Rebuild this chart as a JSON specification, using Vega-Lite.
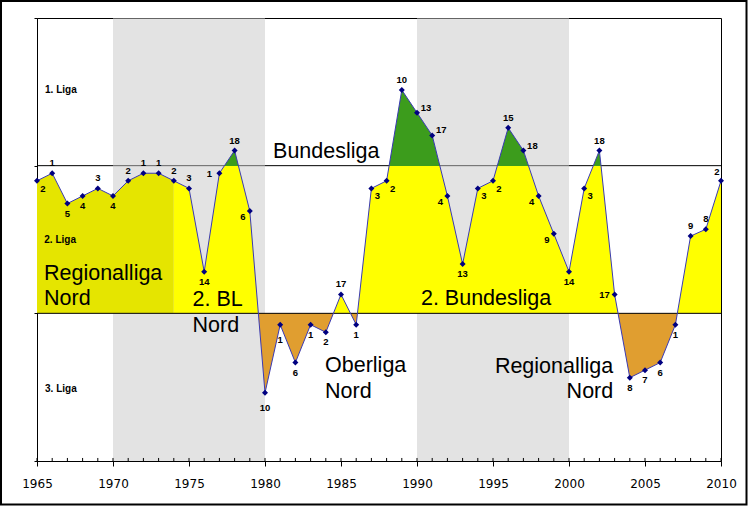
{
  "$schema": "https://vega.github.io/schema/vega-lite/v6.json",
  "width": 684,
  "height": 443,
  "autosize": {"type": "none"},
  "padding": {"left": 37, "top": 18, "right": 27, "bottom": 45},
  "background": "white",
  "config": {"view": {"stroke": "black", "strokeWidth": 1}, "axis": {"grid": false}},
  "datasets": {
    "seasons": [
      {"year": 1965, "liga": 2, "position": 2, "level": 22},
      {"year": 1966, "liga": 2, "position": 1, "level": 21},
      {"year": 1967, "liga": 2, "position": 5, "level": 25},
      {"year": 1968, "liga": 2, "position": 4, "level": 24},
      {"year": 1969, "liga": 2, "position": 3, "level": 23},
      {"year": 1970, "liga": 2, "position": 4, "level": 24},
      {"year": 1971, "liga": 2, "position": 2, "level": 22},
      {"year": 1972, "liga": 2, "position": 1, "level": 21},
      {"year": 1973, "liga": 2, "position": 1, "level": 21},
      {"year": 1974, "liga": 2, "position": 2, "level": 22},
      {"year": 1975, "liga": 2, "position": 3, "level": 23},
      {"year": 1976, "liga": 2, "position": 14, "level": 34},
      {"year": 1977, "liga": 2, "position": 1, "level": 21},
      {"year": 1978, "liga": 1, "position": 18, "level": 18},
      {"year": 1979, "liga": 2, "position": 6, "level": 26},
      {"year": 1980, "liga": 3, "position": 10, "level": 50},
      {"year": 1981, "liga": 3, "position": 1, "level": 41},
      {"year": 1982, "liga": 3, "position": 6, "level": 46},
      {"year": 1983, "liga": 3, "position": 1, "level": 41},
      {"year": 1984, "liga": 3, "position": 2, "level": 42},
      {"year": 1985, "liga": 2, "position": 17, "level": 37},
      {"year": 1986, "liga": 3, "position": 1, "level": 41},
      {"year": 1987, "liga": 2, "position": 3, "level": 23},
      {"year": 1988, "liga": 2, "position": 2, "level": 22},
      {"year": 1989, "liga": 1, "position": 10, "level": 10},
      {"year": 1990, "liga": 1, "position": 13, "level": 13},
      {"year": 1991, "liga": 1, "position": 17, "level": 16},
      {"year": 1992, "liga": 2, "position": 4, "level": 24},
      {"year": 1993, "liga": 2, "position": 13, "level": 33},
      {"year": 1994, "liga": 2, "position": 3, "level": 23},
      {"year": 1995, "liga": 2, "position": 2, "level": 22},
      {"year": 1996, "liga": 1, "position": 15, "level": 15},
      {"year": 1997, "liga": 1, "position": 18, "level": 18},
      {"year": 1998, "liga": 2, "position": 4, "level": 24},
      {"year": 1999, "liga": 2, "position": 9, "level": 29},
      {"year": 2000, "liga": 2, "position": 14, "level": 34},
      {"year": 2001, "liga": 2, "position": 3, "level": 23},
      {"year": 2002, "liga": 1, "position": 18, "level": 18},
      {"year": 2003, "liga": 2, "position": 17, "level": 37},
      {"year": 2004, "liga": 3, "position": 8, "level": 48},
      {"year": 2005, "liga": 3, "position": 7, "level": 47},
      {"year": 2006, "liga": 3, "position": 6, "level": 46},
      {"year": 2007, "liga": 3, "position": 1, "level": 41},
      {"year": 2008, "liga": 2, "position": 9, "level": 29.3},
      {"year": 2009, "liga": 2, "position": 8, "level": 28.4},
      {"year": 2010, "liga": 2, "position": 2, "level": 22}
    ],
    "shading": [{"start": 1970, "end": 1980}, {"start": 1990, "end": 2000}]
  },
  "data": {"name": "seasons"},
  "layer": [
    {
      "data": {"values": [{}]},
      "mark": {"type": "rule", "color": "black", "strokeWidth": 1},
      "encoding": {"y": {"datum": 20, "type": "quantitative", "scale": {"domain": [0.5, 59], "reverse": true, "nice": false, "zero": false}}}
    },
    {
      "data": {"name": "shading"},
      "mark": {"type": "rect", "color": "#c8c8c8", "opacity": 0.5},
      "encoding": {
        "x": {"field": "start", "type": "quantitative", "title": null, "scale": {"domain": [1965, 2010], "nice": false, "zero": false}},
        "x2": {"field": "end"}
      }
    },
    {
      "transform": [{"filter": "datum.year <= 1974"}],
      "mark": {"type": "area", "color": "#e5e500"},
      "encoding": {
        "x": {"field": "year", "type": "quantitative", "title": null, "scale": {"domain": [1965, 2010], "nice": false, "zero": false}},
        "y": {"field": "level", "type": "quantitative", "title": null, "scale": {"domain": [0.5, 59], "reverse": true, "nice": false, "zero": false}},
        "y2": {"datum": 39.5}
      }
    },
    {
      "transform": [{"filter": "datum.year >= 1974"}],
      "mark": {
        "type": "area",
        "color": {
          "gradient": "linear", "x1": 0, "y1": 0, "x2": 0, "y2": 1,
          "stops": [
            {"offset": 0, "color": "#3c9c1c"},
            {"offset": 0.25, "color": "#3c9c1c"},
            {"offset": 0.25, "color": "#ffff00"},
            {"offset": 0.7375, "color": "#ffff00"},
            {"offset": 0.7375, "color": "#e09e30"},
            {"offset": 1, "color": "#e09e30"}
          ]
        }
      },
      "encoding": {
        "x": {"field": "year", "type": "quantitative", "title": null, "scale": {"domain": [1965, 2010], "nice": false, "zero": false}},
        "y": {"field": "level", "type": "quantitative", "title": null, "scale": {"domain": [0.5, 59], "reverse": true, "nice": false, "zero": false}},
        "y2": {"datum": 39.5}
      }
    },
    {
      "data": {"values": [{}]},
      "mark": {"type": "rule", "color": "black", "strokeWidth": 1},
      "encoding": {"y": {"datum": 39.5, "type": "quantitative"}}
    },
    {
      "mark": {"type": "rule", "color": "black", "strokeWidth": 1},
      "encoding": {
        "x": {"field": "year", "type": "quantitative", "title": null},
        "y": {"datum": 59, "type": "quantitative"},
        "y2": {"datum": 58.6}
      }
    },
    {
      "mark": {"type": "line", "color": "#3a3ab4", "strokeWidth": 1},
      "encoding": {
        "x": {"field": "year", "type": "quantitative", "title": null,
          "scale": {"domain": [1965, 2010], "nice": false, "zero": false},
          "axis": {"values": [1965, 1970, 1975, 1980, 1985, 1990, 1995, 2000, 2005, 2010], "format": "d", "labelFont": "DejaVu Sans", "labelFontSize": 12, "labelColor": "black", "tickColor": "black", "domainColor": "black", "tickSize": 5, "labelPadding": 12, "labelFlush": false, "labelOverlap": false, "title": null}},
        "y": {"field": "level", "type": "quantitative", "title": null,
          "scale": {"domain": [0.5, 59], "reverse": true, "nice": false, "zero": false},
          "axis": {"values": [0.5, 20, 39.5, 59], "labels": false, "tickSize": 3, "tickColor": "black", "domainColor": "black", "title": null}}
      }
    },
    {
      "mark": {"type": "point", "shape": "diamond", "filled": true, "color": "#000080", "size": 36, "opacity": 1},
      "encoding": {
        "x": {"field": "year", "type": "quantitative", "title": null},
        "y": {"field": "level", "type": "quantitative", "title": null}
      }
    },
    {
      "transform": [{"filter": {"field": "year", "oneOf": [1966, 1969, 1971, 1972, 1973, 1974, 1975, 1978, 1985, 1989, 1996, 2002, 2008, 2009]}}],
      "mark": {"type": "text", "font": "Liberation Sans", "fontWeight": "bold", "fontSize": 9.5, "color": "black", "baseline": "middle", "align": "center", "dy": -10},
      "encoding": {"x": {"field": "year", "type": "quantitative", "title": null}, "y": {"field": "level", "type": "quantitative", "title": null}, "text": {"field": "position"}}
    },
    {
      "transform": [{"filter": {"field": "year", "oneOf": [1967, 1968, 1970, 1976, 1982, 1983, 1984, 1986, 1993, 2000, 2004, 2005, 2006, 2007]}}],
      "mark": {"type": "text", "font": "Liberation Sans", "fontWeight": "bold", "fontSize": 9.5, "color": "black", "baseline": "middle", "align": "center", "dy": 10},
      "encoding": {"x": {"field": "year", "type": "quantitative", "title": null}, "y": {"field": "level", "type": "quantitative", "title": null}, "text": {"field": "position"}}
    },
    {
      "transform": [{"filter": {"field": "year", "oneOf": [1980, 1981]}}],
      "mark": {"type": "text", "font": "Liberation Sans", "fontWeight": "bold", "fontSize": 9.5, "color": "black", "baseline": "middle", "align": "center", "dy": 15},
      "encoding": {"x": {"field": "year", "type": "quantitative", "title": null}, "y": {"field": "level", "type": "quantitative", "title": null}, "text": {"field": "position"}}
    },
    {
      "transform": [{"filter": {"field": "year", "oneOf": [1965, 1987, 1988, 1994, 1995, 2001]}}],
      "mark": {"type": "text", "font": "Liberation Sans", "fontWeight": "bold", "fontSize": 9.5, "color": "black", "baseline": "middle", "align": "center", "dx": 6, "dy": 8},
      "encoding": {"x": {"field": "year", "type": "quantitative", "title": null}, "y": {"field": "level", "type": "quantitative", "title": null}, "text": {"field": "position"}}
    },
    {
      "transform": [{"filter": {"field": "year", "oneOf": [1990, 1991, 1997]}}],
      "mark": {"type": "text", "font": "Liberation Sans", "fontWeight": "bold", "fontSize": 9.5, "color": "black", "baseline": "middle", "align": "center", "dx": 9, "dy": -5},
      "encoding": {"x": {"field": "year", "type": "quantitative", "title": null}, "y": {"field": "level", "type": "quantitative", "title": null}, "text": {"field": "position"}}
    },
    {
      "transform": [{"filter": {"field": "year", "oneOf": [1977, 2003]}}],
      "mark": {"type": "text", "font": "Liberation Sans", "fontWeight": "bold", "fontSize": 9.5, "color": "black", "baseline": "middle", "align": "center", "dx": -10, "dy": 1},
      "encoding": {"x": {"field": "year", "type": "quantitative", "title": null}, "y": {"field": "level", "type": "quantitative", "title": null}, "text": {"field": "position"}}
    },
    {
      "transform": [{"filter": {"field": "year", "oneOf": [1979, 1992, 1998, 1999]}}],
      "mark": {"type": "text", "font": "Liberation Sans", "fontWeight": "bold", "fontSize": 9.5, "color": "black", "baseline": "middle", "align": "center", "dx": -7, "dy": 6},
      "encoding": {"x": {"field": "year", "type": "quantitative", "title": null}, "y": {"field": "level", "type": "quantitative", "title": null}, "text": {"field": "position"}}
    },
    {
      "transform": [{"filter": {"field": "year", "oneOf": [2010]}}],
      "mark": {"type": "text", "font": "Liberation Sans", "fontWeight": "bold", "fontSize": 9.5, "color": "black", "baseline": "middle", "align": "center", "dx": -4, "dy": -9},
      "encoding": {"x": {"field": "year", "type": "quantitative", "title": null}, "y": {"field": "level", "type": "quantitative", "title": null}, "text": {"field": "position"}}
    },
    {
      "data": {"values": [{}]},
      "mark": {"type": "text", "text": "Bundesliga", "font": "Liberation Sans", "fontSize": 21.5, "color": "black", "align": "left", "baseline": "alphabetic"},
      "encoding": {"x": {"datum": 1980.53, "type": "quantitative"}, "y": {"datum": 19.02, "type": "quantitative"}}
    },
    {
      "data": {"values": [{}]},
      "mark": {"type": "text", "text": ["Regionalliga", "Nord"], "lineHeight": 25.5, "font": "Liberation Sans", "fontSize": 21.5, "color": "black", "align": "left", "baseline": "alphabetic"},
      "encoding": {"x": {"datum": 1965.46, "type": "quantitative"}, "y": {"datum": 35.08, "type": "quantitative"}}
    },
    {
      "data": {"values": [{}]},
      "mark": {"type": "text", "text": ["2. BL", "Nord"], "lineHeight": 26, "font": "Liberation Sans", "fontSize": 21.5, "color": "black", "align": "left", "baseline": "alphabetic"},
      "encoding": {"x": {"datum": 1975.23, "type": "quantitative"}, "y": {"datum": 38.48, "type": "quantitative"}}
    },
    {
      "data": {"values": [{}]},
      "mark": {"type": "text", "text": "2. Bundesliga", "font": "Liberation Sans", "fontSize": 21.5, "color": "black", "align": "left", "baseline": "alphabetic"},
      "encoding": {"x": {"datum": 1990.26, "type": "quantitative"}, "y": {"datum": 38.38, "type": "quantitative"}}
    },
    {
      "data": {"values": [{}]},
      "mark": {"type": "text", "text": ["Oberliga", "Nord"], "lineHeight": 26.5, "font": "Liberation Sans", "fontSize": 21.5, "color": "black", "align": "left", "baseline": "alphabetic"},
      "encoding": {"x": {"datum": 1983.95, "type": "quantitative"}, "y": {"datum": 47.19, "type": "quantitative"}}
    },
    {
      "data": {"values": [{}]},
      "mark": {"type": "text", "text": ["Regionalliga", "Nord"], "lineHeight": 25.6, "font": "Liberation Sans", "fontSize": 21.5, "color": "black", "align": "right", "baseline": "alphabetic"},
      "encoding": {"x": {"datum": 2002.91, "type": "quantitative"}, "y": {"datum": 47.32, "type": "quantitative"}}
    },
    {
      "data": {"values": [{}]},
      "mark": {"type": "text", "text": "1. Liga", "font": "Liberation Sans", "fontWeight": "bold", "fontSize": 10, "color": "black", "align": "left", "baseline": "middle"},
      "encoding": {"x": {"datum": 1965.53, "type": "quantitative"}, "y": {"datum": 10.0, "type": "quantitative"}}
    },
    {
      "data": {"values": [{}]},
      "mark": {"type": "text", "text": "2. Liga", "font": "Liberation Sans", "fontWeight": "bold", "fontSize": 10, "color": "black", "align": "left", "baseline": "middle"},
      "encoding": {"x": {"datum": 1965.48, "type": "quantitative"}, "y": {"datum": 29.8, "type": "quantitative"}}
    },
    {
      "data": {"values": [{}]},
      "mark": {"type": "text", "text": "3. Liga", "font": "Liberation Sans", "fontWeight": "bold", "fontSize": 10, "color": "black", "align": "left", "baseline": "middle"},
      "encoding": {"x": {"datum": 1965.53, "type": "quantitative"}, "y": {"datum": 49.47, "type": "quantitative"}}
    },
    {
      "data": {"values": [{}]},
      "mark": {"type": "rect", "fill": null, "fillOpacity": 0, "stroke": "black", "strokeWidth": 2, "clip": false},
      "encoding": {
        "x": {"datum": 1962.632, "type": "quantitative"},
        "x2": {"datum": 2011.678},
        "y": {"datum": -1.745, "type": "quantitative"},
        "y2": {"datum": 64.75}
      }
    }
  ]
}
